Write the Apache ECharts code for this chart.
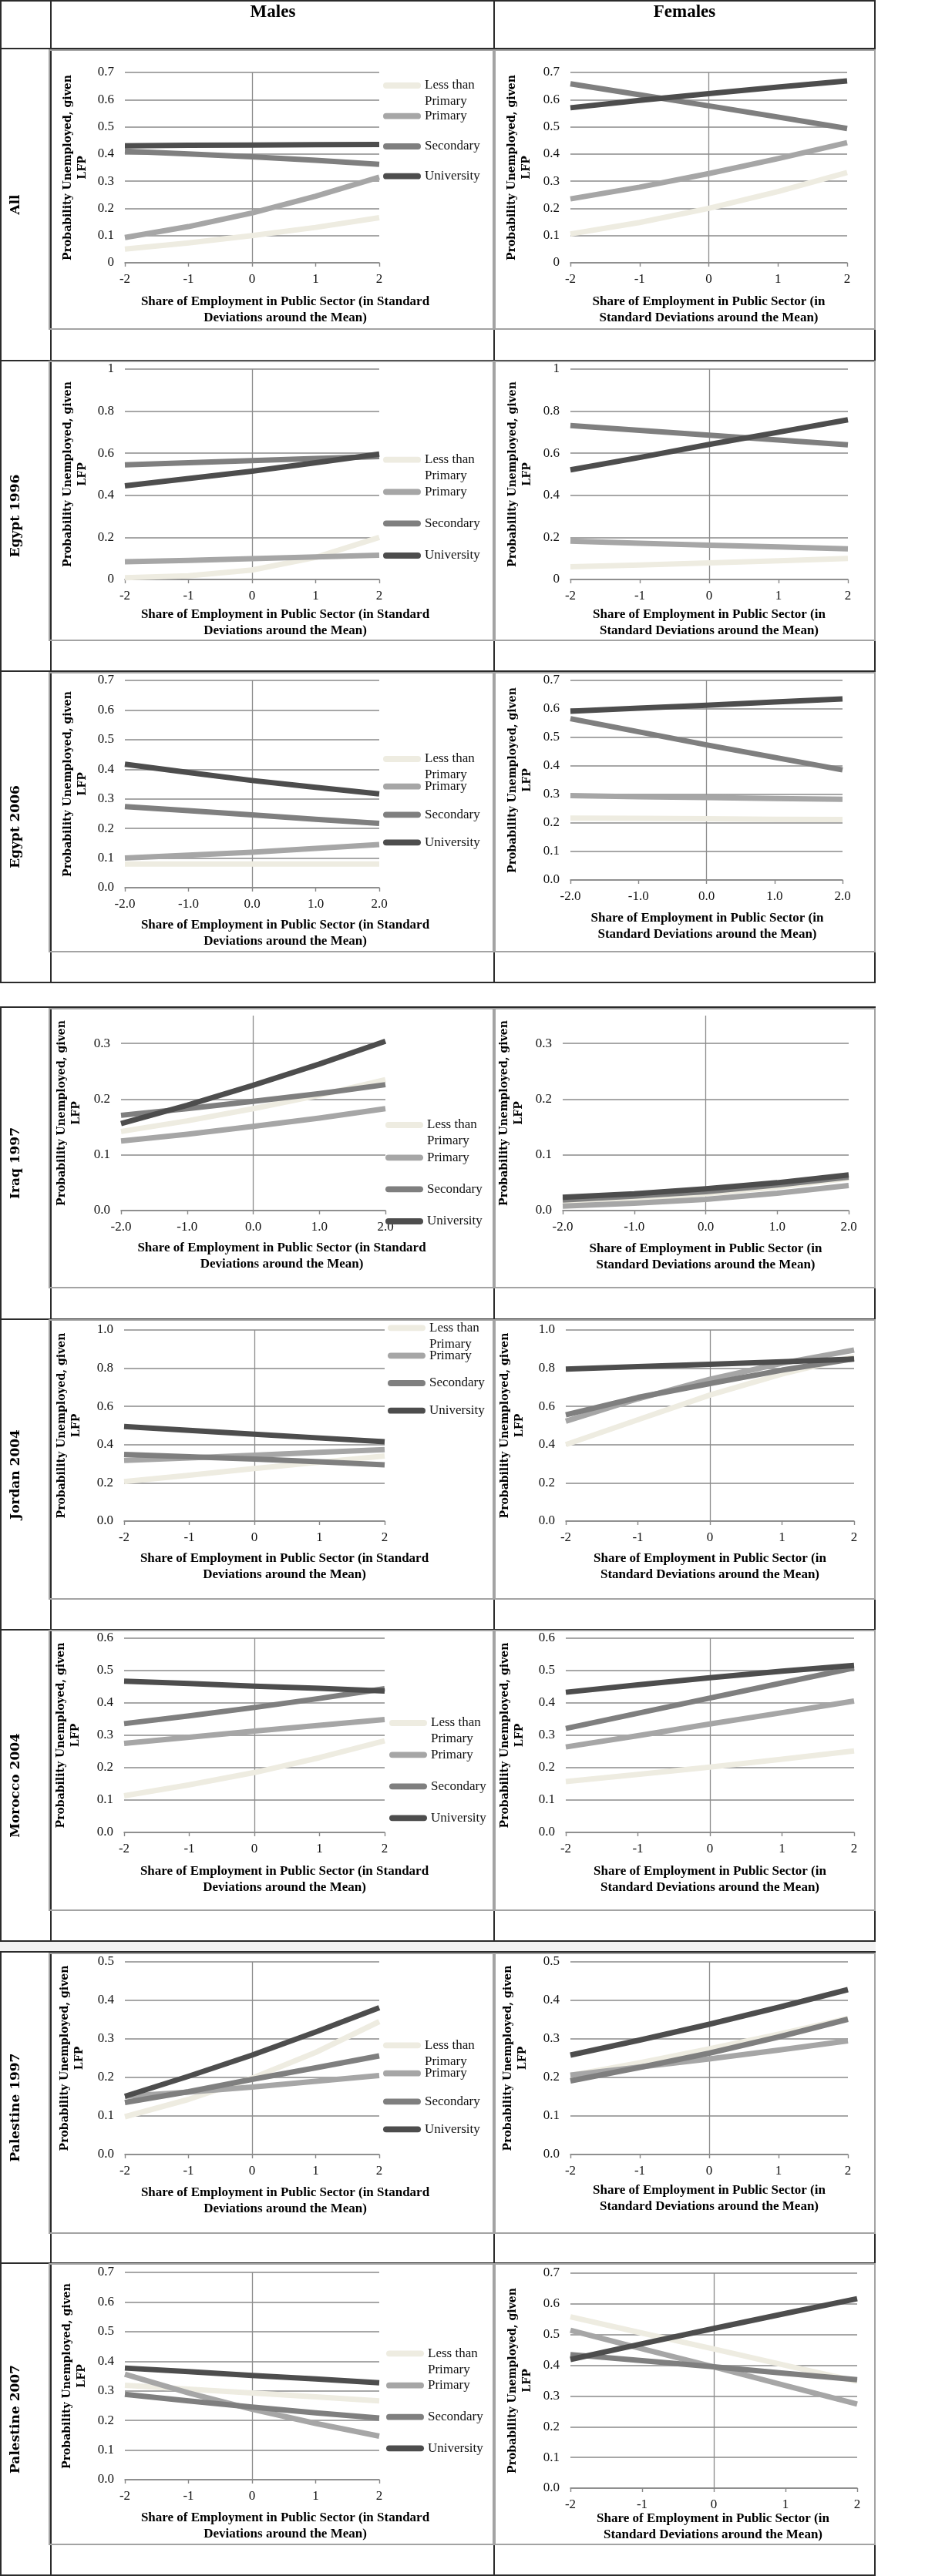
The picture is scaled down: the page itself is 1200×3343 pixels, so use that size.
<!DOCTYPE html>
<html><head><meta charset="utf-8">
<script src="https://cdn.jsdelivr.net/npm/echarts@6/dist/echarts.min.js"></script>
<style>html,body{margin:0;padding:0;background:#fff}#chart{width:1200px;height:3343px}</style>
</head><body><div id="chart"></div>
<script>
// ---------------- DATA ----------------
const seriesNames = ['Less than Primary', 'Primary', 'Secondary', 'University'];
const columnTitles = ['Males', 'Females'];
const rowTitles = ['All', 'Egypt 1996', 'Egypt 2006', 'Iraq 1997', 'Jordan 2004', 'Morocco 2004', 'Palestine 1997', 'Palestine 2007'];
const xValues = [-2, -1, 0, 1, 2];

const allMales = [
  [0.05, 0.073, 0.1, 0.13, 0.166],
  [0.093, 0.133, 0.183, 0.245, 0.315],
  [0.41, 0.40, 0.39, 0.377, 0.362],
  [0.43, 0.432, 0.433, 0.434, 0.435]];
const allFemales = [
  [0.106, 0.148, 0.2, 0.262, 0.332],
  [0.235, 0.278, 0.328, 0.383, 0.442],
  [0.658, 0.618, 0.577, 0.536, 0.494],
  [0.57, 0.597, 0.622, 0.646, 0.669]];
const egypt1996Males = [
  [0.008, 0.017, 0.045, 0.105, 0.2],
  [0.084, 0.091, 0.099, 0.107, 0.115],
  [0.545, 0.555, 0.565, 0.575, 0.584],
  [0.445, 0.48, 0.515, 0.555, 0.596]];
const egypt1996Females = [
  [0.06, 0.069, 0.079, 0.089, 0.1],
  [0.182, 0.172, 0.163, 0.155, 0.146],
  [0.732, 0.709, 0.686, 0.663, 0.64],
  [0.521, 0.58, 0.642, 0.70, 0.759]];
const egypt2006Males = [
  [0.08, 0.08, 0.08, 0.08, 0.08],
  [0.1, 0.11, 0.12, 0.133, 0.146],
  [0.274, 0.26, 0.246, 0.231, 0.217],
  [0.417, 0.389, 0.362, 0.339, 0.317]];
const egypt2006Females = [
  [0.217, 0.216, 0.215, 0.213, 0.212],
  [0.296, 0.292, 0.289, 0.286, 0.283],
  [0.566, 0.52, 0.474, 0.43, 0.386],
  [0.592, 0.603, 0.613, 0.624, 0.635]];
const iraq1997Males = [
  [0.142, 0.161, 0.183, 0.207, 0.235],
  [0.125, 0.137, 0.151, 0.166, 0.183],
  [0.171, 0.183, 0.196, 0.21, 0.226],
  [0.156, 0.189, 0.225, 0.263, 0.304]];
const iraq1997Females = [
  [0.014, 0.021, 0.03, 0.042, 0.058],
  [0.008, 0.013, 0.02, 0.031, 0.045],
  [0.019, 0.026, 0.034, 0.046, 0.06],
  [0.024, 0.03, 0.039, 0.05, 0.064]];
const jordan2004Males = [
  [0.207, 0.24, 0.275, 0.308, 0.341],
  [0.318, 0.331, 0.345, 0.36, 0.374],
  [0.349, 0.337, 0.325, 0.31, 0.294],
  [0.495, 0.475, 0.455, 0.435, 0.415]];
const jordan2004Females = [
  [0.4, 0.53, 0.66, 0.77, 0.86],
  [0.523, 0.64, 0.742, 0.826, 0.895],
  [0.556, 0.647, 0.72, 0.79, 0.85],
  [0.795, 0.808, 0.821, 0.834, 0.848]];
const morocco2004Males = [
  [0.113, 0.147, 0.185, 0.231, 0.283],
  [0.275, 0.294, 0.313, 0.331, 0.349],
  [0.336, 0.36, 0.386, 0.414, 0.444],
  [0.467, 0.46, 0.452, 0.445, 0.437]];
const morocco2004Females = [
  [0.157, 0.179, 0.202, 0.226, 0.252],
  [0.264, 0.299, 0.335, 0.37, 0.406],
  [0.321, 0.368, 0.415, 0.462, 0.508],
  [0.433, 0.456, 0.478, 0.498, 0.516]];
const palestine1997Males = [
  [0.098, 0.143, 0.198, 0.265, 0.345],
  [0.151, 0.162, 0.175, 0.19, 0.205],
  [0.135, 0.163, 0.195, 0.225, 0.256],
  [0.151, 0.203, 0.258, 0.318, 0.381]];
const palestine1997Females = [
  [0.205, 0.238, 0.274, 0.312, 0.353],
  [0.206, 0.227, 0.248, 0.271, 0.295],
  [0.191, 0.226, 0.263, 0.305, 0.351],
  [0.258, 0.297, 0.338, 0.382, 0.428]];
const palestine2007Males = [
  [0.319, 0.306, 0.293, 0.28, 0.266],
  [0.356, 0.293, 0.238, 0.19, 0.147],
  [0.288, 0.266, 0.245, 0.226, 0.208],
  [0.377, 0.365, 0.352, 0.34, 0.327]];
const palestine2007Females = [
  [0.558, 0.505, 0.453, 0.4, 0.348],
  [0.514, 0.454, 0.395, 0.334, 0.274],
  [0.435, 0.415, 0.395, 0.374, 0.353],
  [0.419, 0.47, 0.52, 0.569, 0.617]];

// axis ticks per row
const yMax = [0.7, 1, 0.7, 0.35, 1, 0.6, 0.5, 0.7];
const yStep = [0.1, 0.2, 0.1, 0.1, 0.2, 0.1, 0.1, 0.1];
const yDecimals = [-1, -1, 1, 1, 1, 1, 1, 1]; // -1: trimmed ("0", "0.1")
const xDecimals = [0, 0, 1, 1, 0, 0, 0, 0];
const xAxisTitles = ['Share of Employment in Public Sector (in Standard\nDeviations around the Mean)',
                     'Share of Employment in Public Sector (in\nStandard Deviations around the Mean)'];
const yAxisTitle = 'Probability Unemployed, given\nLFP';

const panelData = [allMales, allFemales, egypt1996Males, egypt1996Females, egypt2006Males, egypt2006Females,
  iraq1997Males, iraq1997Females, jordan2004Males, jordan2004Females, morocco2004Males, morocco2004Females,
  palestine1997Males, palestine1997Females, palestine2007Males, palestine2007Females];

// ---------------- LAYOUT / STYLE ----------------
const colors = ['#EEECE1', '#A6A6A6', '#7F7F7F', '#4D4D4D'];
const plotRect = [ // [left, right, top, bottom]
  [162, 492, 94, 341], [740, 1099, 94, 341],
  [162, 492, 479, 752], [740, 1100, 479, 752],
  [162, 492, 883, 1152], [740, 1093, 883, 1142],
  [157, 500, 1318, 1571], [730, 1101, 1318, 1571],
  [161, 499, 1726, 1974], [734, 1108, 1726, 1974],
  [161, 499, 2126, 2378], [734, 1108, 2126, 2378],
  [162, 492, 2546, 2796], [740, 1100, 2546, 2796],
  [162, 492, 2949, 3218], [740, 1112, 2950, 3229]];
const yNameGap = [45, 47, 45, 46, 45, 46, 48, 47, 52, 50, 53, 50, 49, 52, 46, 46];
const xNameGap = [40, 40, 35, 35, 38, 39, 38, 39, 38, 38, 40, 40, 39, 36, 39, 29];
const xNameShift = [43, 0, 43, 0, 43, 1, 37, 0, 39, 0, 39, 0, 43, 0, 43, -1];
const legendLeft = [497, 497, 497, 500, 503, 505, 497, 501];
const legendCenters = [
  [111, 150.7, 190, 228.7], [596.7, 638.3, 679.3, 721], [985, 1020.7, 1057.3, 1093.3],
  [1460, 1502.3, 1543.3, 1585], [1723.3, 1759.3, 1795, 1830.7], [2236, 2277.3, 2318.3, 2359.3],
  [2654.3, 2690.7, 2727.3, 2763.3], [3054.3, 3095.7, 3136.7, 3177.3]];
const rowBands = [[63, 468], [468, 871], [871, 1275], [1307, 1712], [1712, 2115], [2115, 2519], [2533, 2937], [2937, 3342]];
const chartBoxY = [[65, 427], [469, 831], [873, 1235], [1309, 1671], [1713, 2075], [2116, 2479], [2535, 2898], [2938, 3302]];
const tables = [[1, 1275, [1, 63, 468, 871, 1275]], [1307, 2519, [1307, 1712, 2115, 2519]], [2533, 3343, [2533, 2937, 3342]]];
const colX = [1, 66, 641, 1135];

const serif = 'Liberation Serif';
const grids = [], xAxes = [], yAxes = [], series = [], legends = [], graphics = [];

panelData.forEach((arr, p) => {
  const r = Math.floor(p / 2), c = p % 2;
  const [l, rt, t, b] = plotRect[p];
  grids.push({ left: l, top: t, width: rt - l, height: b - t, containLabel: false, outerBoundsMode: 'none' });
  const shift = xNameShift[p];
  xAxes.push({
    gridIndex: p, type: 'value', min: -2, max: 2, interval: 1,
    axisLine: { show: true, onZero: false, lineStyle: { color: '#888', width: 1.6 } },
    axisTick: { show: true, inside: false, length: 5, lineStyle: { color: '#888', width: 1.4 } },
    splitLine: { show: false },
    axisLabel: { margin: 13, fontFamily: serif, fontSize: 17, color: '#111',
      formatter: v => Number(v).toFixed(xDecimals[r]) },
    name: xAxisTitles[c], nameLocation: 'middle', nameGap: xNameGap[p], nameMoveOverlap: false,
    nameTextStyle: { fontFamily: serif, fontWeight: 'bold', fontSize: 17, lineHeight: 21, color: '#000',
      padding: shift > 0 ? [0, 0, 0, 2 * shift] : (shift < 0 ? [0, -2 * shift, 0, 0] : 0) }
  });
  const step = yStep[r], max = yMax[r];
  const nFull = Math.floor(max / step + 1e-9);
  const partial = Math.abs(max - nFull * step) > 1e-9;
  const lineColors = [];
  for (let i = 0; i <= nFull; i++) lineColors.push('#8a8a8a');
  if (partial) lineColors.push('rgba(0,0,0,0)');
  yAxes.push({
    gridIndex: p, type: 'value', min: 0, max: max, interval: step,
    axisLine: { show: false }, axisTick: { show: false },
    splitLine: { show: true, lineStyle: { color: partial ? lineColors : '#8a8a8a', width: 1.6 } },
    axisLabel: { margin: 14, fontFamily: serif, fontSize: 17, color: '#111',
      formatter: v => {
        const k = Math.round(v / step);
        if (Math.abs(v - k * step) > 1e-6) return '';
        const val = k * step;
        return yDecimals[r] < 0 ? String(parseFloat(val.toFixed(2))) : val.toFixed(yDecimals[r]);
      } },
    name: yAxisTitle, nameLocation: 'middle', nameGap: yNameGap[p], nameRotate: 90, nameMoveOverlap: false,
    nameTextStyle: { fontFamily: 'DejaVu Serif', fontWeight: 'bold', fontSize: 14, lineHeight: 19, color: '#000' }
  });
  arr.forEach((vals, s) => {
    const ser = {
      type: 'line', name: seriesNames[s], xAxisIndex: p, yAxisIndex: p,
      data: xValues.map((x, i) => [x, vals[i]]),
      smooth: false, showSymbol: false, symbol: 'none',
      lineStyle: { width: 7, color: colors[s], join: 'round' }, itemStyle: { color: colors[s] },
      emphasis: { disabled: true }, silent: true, z: 3
    };
    if (s === 0) {
      ser.markLine = { silent: true, symbol: ['none', 'none'], label: { show: false }, z: 1,
        emphasis: { disabled: true }, animation: false,
        lineStyle: { color: '#8c8c8c', width: 1.3, type: 'solid' }, data: [{ xAxis: 0 }] };
    }
    series.push(ser);
  });
});

// legends (males column only)
for (let r = 0; r < 8; r++) {
  seriesNames.forEach((nm, s) => {
    const multi = s === 0;
    legends.push({
      data: [nm], orient: 'vertical', left: legendLeft[r],
      top: legendCenters[r][s] - (multi ? 31.5 : 10.5),
      padding: 0, itemGap: 0, itemWidth: 49, itemHeight: 8, selectedMode: false,
      icon: 'path://M4,0 L46,0 A4,4 0 0 1 46,8 L4,8 A4,4 0 0 1 4,0 Z',
      formatter: multi ? '\nLess than\nPrimary' : '{name}',
      textStyle: { fontFamily: serif, fontSize: 17, lineHeight: 21, color: '#111' }
    });
  });
}

// table structure
const addLine = (x1, y1, x2, y2, color, w, z) => graphics.push({ type: 'line', silent: true, z: z,
  shape: { x1, y1, x2, y2 }, style: { stroke: color, lineWidth: w } });
graphics.push({ type: 'rect', silent: true, z: 0, shape: { x: 0, y: 2520, width: 1136, height: 12 }, style: { fill: '#f2f2f2' } });
tables.forEach(([y0, y1, hs]) => {
  hs.forEach(y => addLine(0, y, 1136, y, '#2b2b2b', 2, 20));
  colX.forEach(x => addLine(x, y0, x, y1, '#2b2b2b', 2, 20));
});
chartBoxY.forEach(([t, b]) => {
  graphics.push({ type: 'rect', silent: true, z: 21, shape: { x: 64, y: t, width: 576, height: b - t },
    style: { fill: 'rgba(0,0,0,0)', stroke: '#a3a3a3', lineWidth: 2 } });
  graphics.push({ type: 'rect', silent: true, z: 21, shape: { x: 642, y: t, width: 493, height: b - t },
    style: { fill: 'rgba(0,0,0,0)', stroke: '#a3a3a3', lineWidth: 2 } });
});
[[354, columnTitles[0]], [888, columnTitles[1]]].forEach(([x, txt]) => {
  graphics.push({ type: 'text', silent: true, z: 22, x: x, y: 16,
    style: { text: txt, font: 'bold 23px "Liberation Serif"', fill: '#000',
      align: 'center', verticalAlign: 'middle', textAlign: 'center', textVerticalAlign: 'middle' } });
});
rowTitles.forEach((txt, r) => {
  const cy = (rowBands[r][0] + rowBands[r][1]) / 2;
  graphics.push({ type: 'text', silent: true, z: 22, x: 21, y: cy, rotation: Math.PI / 2,
    style: { text: txt, font: 'bold 17px "DejaVu Serif"', fill: '#000',
      align: 'center', verticalAlign: 'middle', textAlign: 'center', textVerticalAlign: 'middle' } });
});

const chart = echarts.init(document.getElementById('chart'), null, { renderer: 'canvas', width: 1200, height: 3343 });
chart.setOption({
  animation: false, backgroundColor: '#fff',
  grid: grids, xAxis: xAxes, yAxis: yAxes, series: series, legend: legends, graphic: graphics
});
</script></body></html>
